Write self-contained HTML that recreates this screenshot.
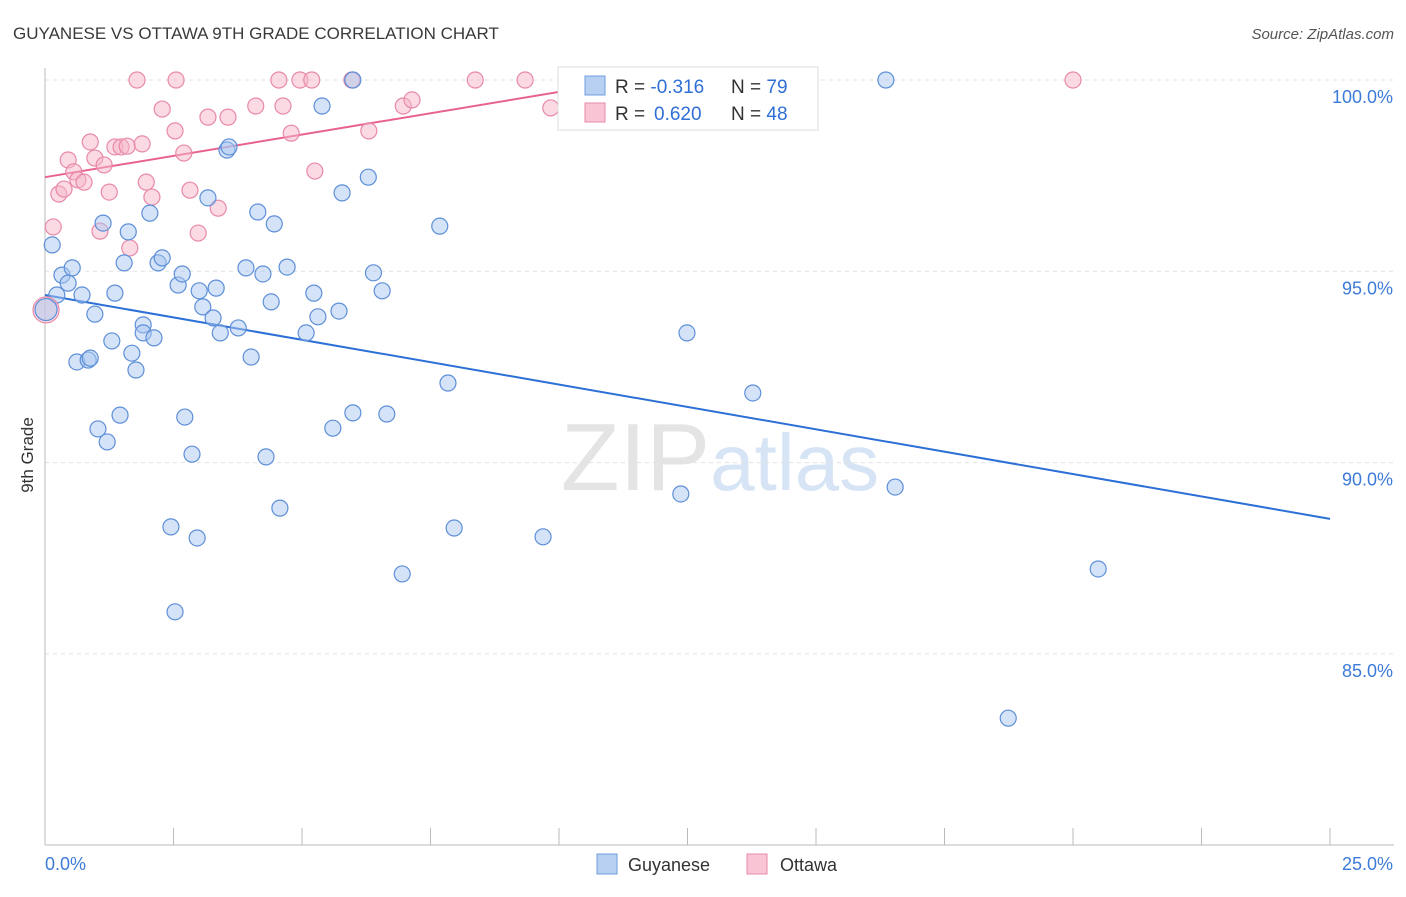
<!DOCTYPE html>
<html><head><meta charset="utf-8"><style>
body{margin:0;background:#fff;font-family:"Liberation Sans",sans-serif;}
svg text{font-family:"Liberation Sans",sans-serif;}
</style></head><body>
<svg id="chart" width="1406" height="892" xmlns="http://www.w3.org/2000/svg">
<text x="13" y="39" font-size="17" fill="#3a3a3a">GUYANESE VS OTTAWA 9TH GRADE CORRELATION CHART</text>
<text x="1394" y="39" font-size="15" font-style="italic" fill="#555" text-anchor="end">Source: ZipAtlas.com</text>
<text x="720" y="490" font-size="96" text-anchor="middle" fill="#e4e4e4" font-family="Liberation Serif"><tspan>ZIP</tspan><tspan fill="#d6e4f5" font-family="Liberation Sans" font-size="80">atlas</tspan></text>
<g id="grid"></g>
<g id="axes"></g>
<g id="trend"></g>
<g id="pts"></g>
<text transform="translate(33,455) rotate(-90)" font-size="17" fill="#333" text-anchor="middle">9th Grade</text>
<g>
<rect x="558" y="67" width="260" height="63" fill="#fff" stroke="#ddd"/>
<rect x="585" y="76" width="20" height="19" fill="#b7d0f2" stroke="#6f9ee0"/>
<text x="615" y="93" font-size="19" fill="#333">R = <tspan fill="#2f6fd6">-0.316</tspan><tspan x="731">N = </tspan><tspan fill="#2f6fd6">79</tspan></text>
<rect x="585" y="103" width="20" height="19" fill="#f9c4d3" stroke="#e98aab"/>
<text x="615" y="120" font-size="19" fill="#333">R = <tspan x="654" fill="#2f6fd6">0.620</tspan><tspan x="731">N = </tspan><tspan fill="#2f6fd6">48</tspan></text>
</g>
<g>
<rect x="597" y="854" width="20" height="20" fill="#b7d0f2" stroke="#6f9ee0"/>
<text x="628" y="871" font-size="18" fill="#333">Guyanese</text>
<rect x="747" y="854" width="20" height="20" fill="#f9c4d3" stroke="#e98aab"/>
<text x="780" y="871" font-size="18" fill="#333">Ottawa</text>
</g>
</svg>
<script>
const yTicks=[100,95,90,85];
const yTickLabels=["100.0%","95.0%","90.0%","85.0%"];
const xTicks=[0,2.5,5,7.5,10,12.5,15,17.5,20,22.5,25];
const blueX=[0.14,0.23,0.33,0.45,0.53,0.72,0.62,0.84,0.88,0.97,1.03,1.13,1.21,1.30,1.36,1.46,1.54,1.62,1.69,1.77,1.91,1.91,2.04,2.12,2.20,2.28,2.45,2.53,2.59,2.67,2.72,2.86,2.96,3.00,3.07,3.17,3.27,3.33,3.41,3.54,3.58,3.76,3.91,4.01,4.14,4.24,4.30,4.40,4.46,4.57,4.71,5.08,5.23,5.31,5.39,5.60,5.72,5.78,5.99,5.99,6.29,6.39,6.56,6.65,6.95,7.68,7.84,7.96,9.69,12.37,12.49,13.77,16.36,16.54,18.74,20.49];
const blueY=[95.69,94.38,94.90,94.69,95.09,94.38,92.63,92.68,92.73,93.88,90.88,96.26,90.54,93.18,94.43,91.24,95.22,96.03,92.86,92.42,93.60,93.39,96.52,93.26,95.22,95.35,88.32,86.10,94.64,94.93,91.19,90.22,88.03,94.49,94.07,96.92,93.78,94.56,93.39,98.17,98.25,93.52,95.09,92.76,96.55,94.93,90.15,94.20,96.24,88.81,95.11,93.39,94.43,93.81,99.32,90.90,93.96,97.05,91.30,100,97.46,94.96,94.49,91.27,87.09,96.18,92.08,88.29,88.06,89.18,93.39,91.82,100,89.36,83.32,87.22];
const pinkX=[0.16,0.27,0.37,0.45,0.56,0.64,0.76,0.88,0.97,1.07,1.15,1.25,1.36,1.48,1.60,1.65,1.79,1.89,1.97,2.08,2.28,2.55,2.53,2.70,2.82,2.98,3.17,3.37,3.56,4.10,4.55,4.63,4.79,4.96,5.19,5.25,6.30,6.97,7.14,8.37,9.34,9.84,11.81,12.90,20.00,5.97];
const pinkY=[96.16,97.02,97.15,97.91,97.60,97.39,97.33,98.38,97.96,96.05,97.78,97.07,98.25,98.25,98.27,95.61,100,98.33,97.33,96.94,99.24,100,98.67,98.09,97.12,96.00,99.03,96.65,99.03,99.32,100,99.32,98.61,100,100,97.62,98.67,99.32,99.48,100,100,99.27,100,100,100,100];
const bigX=[0.02,0.02];const bigY=[93.99,94.0];
const blueTrend=[[0,94.38],[25,88.53]];
const pinkTrend=[[0,97.46],[11.4,100]];
const NS="http://www.w3.org/2000/svg";
const sx=v=>45+v/25*1285;
const sy=v=>80+(100-v)*38.26;
function mk(tag,attrs,parent){const e=document.createElementNS(NS,tag);for(const k in attrs)e.setAttribute(k,attrs[k]);document.getElementById(parent).appendChild(e);return e;}
yTicks.forEach((t,i)=>{
 const l=mk('line',{x1:45,x2:1394,y1:sy(t),y2:sy(t),stroke:'#e2e2e2','stroke-dasharray':'4,4'},'grid');
 
 
 const tx=mk('text',{x:1393,y:sy(t)+23,'font-size':18,fill:'#3d7bd8','text-anchor':'end'},'grid');
 tx.textContent=yTickLabels[i];
 
 
});
const ax=mk('line',{x1:45,x2:45,y1:68,y2:845,stroke:'#bbb'},'axes');


const bx=mk('line',{x1:45,x2:1394,y1:845,y2:845,stroke:'#bbb'},'axes');


xTicks.forEach(t=>{const l=mk('line',{x1:sx(t),x2:sx(t),y1:828,y2:845,stroke:'#bbb'},'axes');
 
 });
const xl0=mk('text',{x:45,y:870,'font-size':18,fill:'#3d7bd8'},'axes');xl0.textContent='0.0%';


const xl1=mk('text',{x:1393,y:870,'font-size':18,fill:'#3d7bd8','text-anchor':'end'},'axes');xl1.textContent='25.0%';


function dot(x,y,r,fill,stroke,name){const c=mk('circle',{cx:sx(x),cy:sy(y),r:r,fill:fill,'fill-opacity':0.5,stroke:stroke,'stroke-width':1.2},'pts');
 
 }
pinkX.forEach((x,i)=>dot(x,pinkY[i],8,'#f7b6c9','#e889a8','ottawa-point'));
blueX.forEach((x,i)=>dot(x,blueY[i],8,'#a9c8f0','#5d8fd8','guyanese-point'));
dot(bigX[0],bigY[0],13,'#f7b6c9','#e889a8','ottawa-point');
dot(bigX[1],bigY[1],11,'#a9c8f0','#5d8fd8','guyanese-point');
const bl=mk('line',{x1:sx(blueTrend[0][0]),y1:sy(blueTrend[0][1]),x2:sx(blueTrend[1][0]),y2:sy(blueTrend[1][1]),stroke:'#2c6fd6','stroke-width':2},'trend');


const pl=mk('line',{x1:sx(pinkTrend[0][0]),y1:sy(pinkTrend[0][1]),x2:sx(pinkTrend[1][0]),y2:sy(pinkTrend[1][1]),stroke:'#e8628f','stroke-width':2},'trend');


</script>
</body></html>
